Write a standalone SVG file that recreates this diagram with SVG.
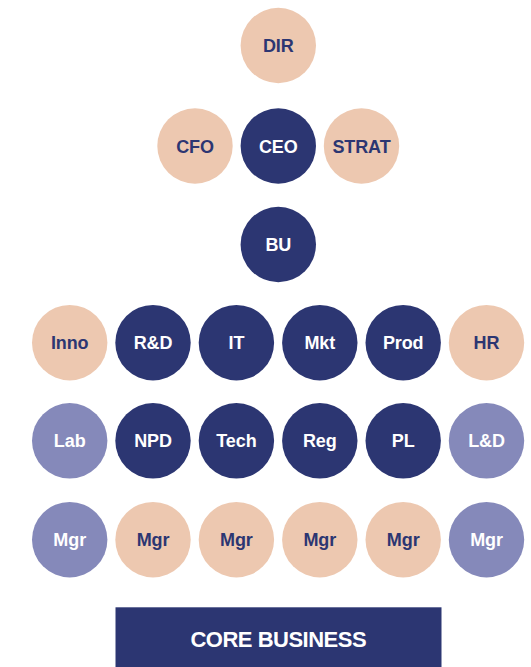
<svg xmlns="http://www.w3.org/2000/svg" width="531" height="667" viewBox="0 0 531 667">
<style>
.peach{fill:#EDC8B0}
.navy{fill:#2C3672}
.lav{fill:#8589BA}
text{font-family:"Liberation Sans",Arial,sans-serif;font-size:18px;font-weight:bold;text-anchor:middle;letter-spacing:-0.1px}
.dk{fill:#2C3672}
.lt{fill:#FFFFFF}
.core{font-size:22px;font-weight:bold;letter-spacing:-0.5px;fill:#FFFFFF}
</style>
<rect width="531" height="667" fill="#FFFFFF"/>
<g id="connectors"></g>
<g id="n-dir"><circle class="peach" cx="278.3" cy="45.5" r="37.7"/><text class="dk" x="278.3" y="52">DIR</text></g>
<g id="n-cfo"><circle class="peach" cx="195" cy="146" r="37.7"/><text class="dk" x="195" y="152.5">CFO</text></g>
<g id="n-ceo"><circle class="navy" cx="278.3" cy="146" r="37.7"/><text class="lt" x="278.3" y="152.5">CEO</text></g>
<g id="n-strat"><circle class="peach" cx="361.5" cy="146" r="37.7"/><text class="dk" x="361.5" y="152.5">STRAT</text></g>
<g id="n-bu"><circle class="navy" cx="278.3" cy="244.5" r="37.7"/><text class="lt" x="278.3" y="251">BU</text></g>

<g id="n-inno"><circle class="peach" cx="69.7" cy="342.7" r="37.7"/><text class="dk" x="69.7" y="349.2">Inno</text></g>
<g id="n-rd"><circle class="navy" cx="153" cy="342.7" r="37.7"/><text class="lt" x="153" y="349.2">R&amp;D</text></g>
<g id="n-it"><circle class="navy" cx="236.4" cy="342.7" r="37.7"/><text class="lt" x="236.4" y="349.2">IT</text></g>
<g id="n-mkt"><circle class="navy" cx="319.8" cy="342.7" r="37.7"/><text class="lt" x="319.8" y="349.2">Mkt</text></g>
<g id="n-prod"><circle class="navy" cx="403.2" cy="342.7" r="37.7"/><text class="lt" x="403.2" y="349.2">Prod</text></g>
<g id="n-hr"><circle class="peach" cx="486.5" cy="342.7" r="37.7"/><text class="dk" x="486.5" y="349.2">HR</text></g>

<g id="n-lab"><circle class="lav" cx="69.7" cy="440.8" r="37.7"/><text class="lt" x="69.7" y="447.3">Lab</text></g>
<g id="n-npd"><circle class="navy" cx="153" cy="440.8" r="37.7"/><text class="lt" x="153" y="447.3">NPD</text></g>
<g id="n-tech"><circle class="navy" cx="236.4" cy="440.8" r="37.7"/><text class="lt" x="236.4" y="447.3">Tech</text></g>
<g id="n-reg"><circle class="navy" cx="319.8" cy="440.8" r="37.7"/><text class="lt" x="319.8" y="447.3">Reg</text></g>
<g id="n-pl"><circle class="navy" cx="403.2" cy="440.8" r="37.7"/><text class="lt" x="403.2" y="447.3">PL</text></g>
<g id="n-ld"><circle class="lav" cx="486.5" cy="440.8" r="37.7"/><text class="lt" x="486.5" y="447.3">L&amp;D</text></g>

<g id="n-mgr1"><circle class="lav" cx="69.7" cy="539.7" r="37.7"/><text class="lt" x="69.7" y="546.2">Mgr</text></g>
<g id="n-mgr2"><circle class="peach" cx="153" cy="539.7" r="37.7"/><text class="dk" x="153" y="546.2">Mgr</text></g>
<g id="n-mgr3"><circle class="peach" cx="236.4" cy="539.7" r="37.7"/><text class="dk" x="236.4" y="546.2">Mgr</text></g>
<g id="n-mgr4"><circle class="peach" cx="319.8" cy="539.7" r="37.7"/><text class="dk" x="319.8" y="546.2">Mgr</text></g>
<g id="n-mgr5"><circle class="peach" cx="403.2" cy="539.7" r="37.7"/><text class="dk" x="403.2" y="546.2">Mgr</text></g>
<g id="n-mgr6"><circle class="lav" cx="486.5" cy="539.7" r="37.7"/><text class="lt" x="486.5" y="546.2">Mgr</text></g>

<g id="n-core"><rect class="navy" x="115.5" y="607.3" width="326" height="60"/><text class="core" x="278.3" y="646.7">CORE BUSINESS</text></g>
</svg>
